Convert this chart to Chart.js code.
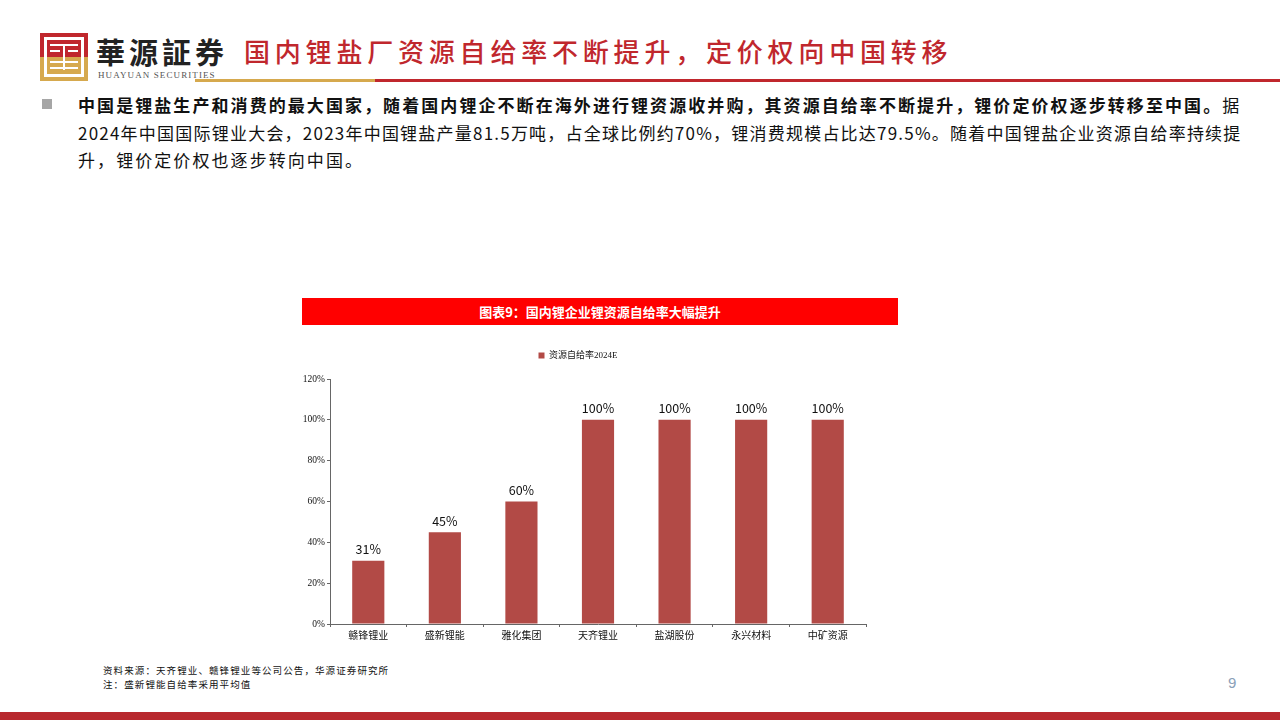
<!DOCTYPE html>
<html><head><meta charset="utf-8">
<script src="https://cdn.jsdelivr.net/npm/chart.js@4"></script>
<style>
html,body{margin:0;padding:0;width:1280px;height:720px;overflow:hidden;background:#fff;font-family:"Noto Sans CJK SC",sans-serif;}
.abs{position:absolute;}
#logo{left:40px;top:33px;width:48px;height:48px;}
#brand{left:96px;top:30px;font-size:29px;font-weight:700;color:#222;letter-spacing:4px;white-space:nowrap;font-family:"Noto Sans CJK SC";}
#brandEn{left:98px;top:70px;font-size:9px;color:#555;letter-spacing:1.1px;font-family:"Liberation Serif",serif;white-space:nowrap;}
#title{left:244px;top:32px;font-size:26px;color:#C0272D;letter-spacing:4.8px;white-space:nowrap;font-weight:500;}
#line1{left:195px;top:79px;width:180px;height:3px;background:#D6A94E;}
#line2{left:375px;top:79px;width:905px;height:3px;background:#C0272D;}
#bullet{left:42px;top:99px;width:10px;height:10px;background:#A6A6A6;}
.txt{left:78px;font-size:17px;color:#111;white-space:nowrap;letter-spacing:2.07px;line-height:20px;}
#banner{left:302px;top:298px;width:596px;height:27px;background:#FF0000;color:#fff;font-size:13px;font-weight:700;text-align:center;line-height:27px;}
#src{left:103px;top:663px;font-size:9.5px;color:#111;line-height:14px;letter-spacing:1.1px;white-space:nowrap;}
#page{left:1228px;top:674px;font-size:15px;color:#8aa0b8;font-family:"Liberation Sans",sans-serif;}
#foot{left:0;top:712px;width:1280px;height:8px;background:#B8282E;}
#wrap{left:290px;top:329px;width:610px;height:316px;}
.w{position:absolute;background:#fff;}
</style></head><body>
<div id="logo" class="abs">
  <div class="abs" style="left:0;top:0;width:48px;height:24px;background:#C0272D;"></div>
  <div class="abs" style="left:0;top:24px;width:48px;height:24px;background:#D6A94E;"></div>
  <div class="w" style="left:4px;top:4px;width:40px;height:3px;"></div>
  <div class="w" style="left:4px;top:4px;width:3px;height:40px;"></div>
  <div class="w" style="left:41px;top:4px;width:3px;height:40px;"></div>
  <div class="w" style="left:4px;top:41px;width:40px;height:3px;"></div>
  <div class="w" style="left:10px;top:11px;width:28px;height:2px;"></div>
  <div class="w" style="left:10px;top:17px;width:10px;height:2px;"></div>
  <div class="w" style="left:28px;top:17px;width:10px;height:2px;"></div>
  <div class="w" style="left:23px;top:11px;width:2px;height:26px;"></div>
  <div class="w" style="left:10px;top:28px;width:28px;height:2px;"></div>
  <div class="w" style="left:10px;top:34px;width:28px;height:2px;"></div>
</div>
<div id="brand" class="abs">華源証券</div>
<div id="brandEn" class="abs">HUAYUAN SECURITIES</div>
<div id="title" class="abs">国内锂盐厂资源自给率不断提升，定价权向中国转移</div>
<div id="line1" class="abs"></div><div id="line2" class="abs"></div>
<div id="bullet" class="abs"></div>
<div class="abs txt" style="top:95px;"><b>中国是锂盐生产和消费的最大国家，随着国内锂企不断在海外进行锂资源收并购，其资源自给率不断提升，锂价定价权逐步转移至中国。</b>据</div>
<div class="abs txt" style="top:123px;letter-spacing:1.22px;">2024年中国国际锂业大会，2023年中国锂盐产量81.5万吨，占全球比例约70%，锂消费规模占比达79.5%。随着中国锂盐企业资源自给率持续提</div>
<div class="abs txt" style="top:150px;">升，锂价定价权也逐步转向中国。</div>
<div id="banner" class="abs">图表9：国内锂企业锂资源自给率大幅提升</div>
<div id="wrap" class="abs"><canvas id="c" width="610" height="316"></canvas></div>
<div id="src" class="abs">资料来源：天齐锂业、赣锋锂业等公司公告，华源证券研究所<br>注：盛新锂能自给率采用平均值</div>
<div id="page" class="abs">9</div>
<div id="foot" class="abs"></div>
<script>
const categories = ["赣锋锂业","盛新锂能","雅化集团","天齐锂业","盐湖股份","永兴材料","中矿资源"];
const selfSufficiency2024E = [31,45,60,100,100,100,100];
const seriesName = "资源自给率2024E";
const yTicks = [0,20,40,60,80,100,120];

const labelPlugin = {
  id:'barLabels',
  afterDatasetsDraw(chart){
    const ctx = chart.ctx;
    const meta = chart.getDatasetMeta(0);
    ctx.save();
    ctx.font = '12.5px "Noto Sans CJK SC", sans-serif';
    ctx.fillStyle = '#111';
    ctx.textAlign = 'center';
    ctx.textBaseline = 'bottom';
    meta.data.forEach((el,i)=>{
      ctx.fillText(selfSufficiency2024E[i] + '%', el.x, el.y - 5);
    });
    ctx.restore();
  }
};

const legendGap = {
  id:'legendGap',
  beforeInit(chart){
    Chart.layouts.addBox(chart, {
      position:'top', weight:0, fullSize:true, options:{},
      width:0, height:9,
      update(maxW){ this.width = maxW; this.height = 9; },
      isHorizontal(){ return true; },
      draw(){}
    });
  }
};

new Chart(document.getElementById('c'), {
  type:'bar',
  data:{labels:categories, datasets:[{label:seriesName, data:selfSufficiency2024E, backgroundColor:'#B24A46', barPercentage:0.42, categoryPercentage:1}]},
  options:{
    responsive:false, animation:false,
    layout:{padding:{top:0,right:34,left:0,bottom:0}},
    plugins:{
      legend:{display:true, position:'top', labels:{boxWidth:6, boxHeight:6, padding:22, color:'#111', font:{size:9, family:'"Liberation Serif","Noto Sans CJK SC"'}}},
      tooltip:{enabled:false}
    },
    scales:{
      y:{min:0,max:120,
        afterBuildTicks(s){ s.ticks = yTicks.map(v=>({value:v})); },
        afterFit(s){ s.width = 40; },
        ticks:{callback:v=>v+'%', color:'#111', padding:2, font:{size:9.5, family:'"Liberation Serif",serif'}},
        grid:{drawOnChartArea:false, drawTicks:true, tickLength:3, color:'#666'},
        border:{display:true, color:'#666', width:1}
      },
      x:{
        ticks:{color:'#111', padding:3, maxRotation:0, font:{size:10, family:'"Liberation Serif","Noto Sans CJK SC",serif'}},
        grid:{drawOnChartArea:false, drawTicks:true, tickLength:3, color:'#666', offset:true},
        border:{display:true, color:'#666', width:1}
      }
    }
  },
  plugins:[labelPlugin, legendGap]
});
</script>
</body></html>
